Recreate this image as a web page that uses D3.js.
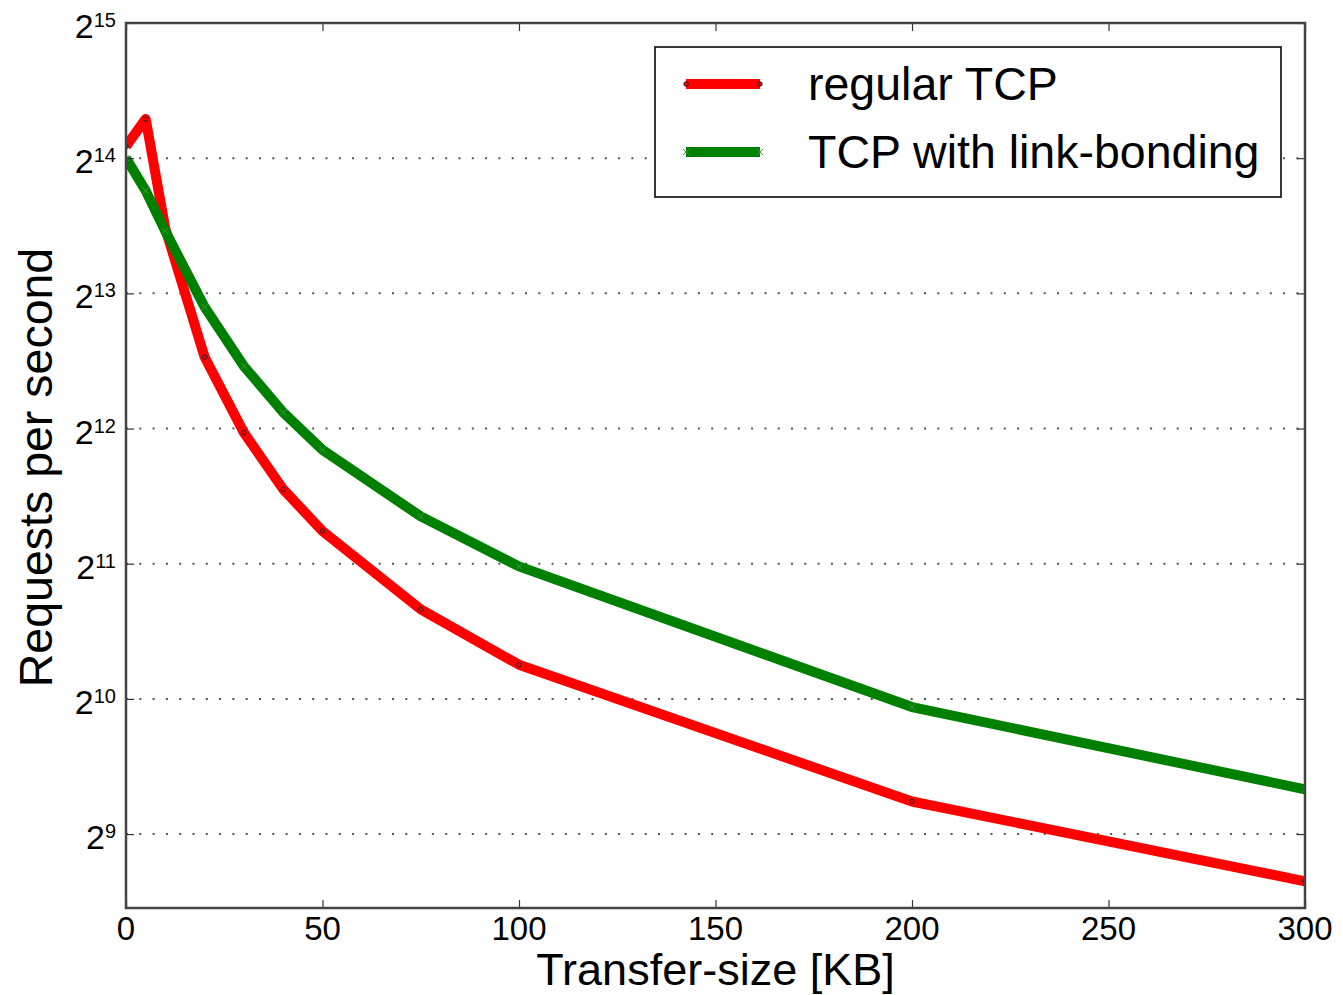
<!DOCTYPE html>
<html>
<head>
<meta charset="utf-8">
<script src="https://cdn.jsdelivr.net/npm/d3@7"></script>
<style>
  html, body { margin: 0; padding: 0; background: #fff; }
  svg { display: block; }
  text { font-family: "Liberation Sans", Arial, sans-serif; fill: #000; }
</style>
</head>
<body>
<svg id="chart" width="1343" height="995"></svg>
<script>
// ---- data ----
const transferSizes = [0, 5, 10, 20, 30, 40, 50, 75, 100, 200, 300];
const regularTCP    = [17400, 20030, 11420, 5910, 4010, 3000, 2420, 1620, 1220, 605, 402];
const linkBonding   = [16384, 13870, 11270, 7640, 5640, 4450, 3670, 2610, 2020, 982, 644];
const seriesNames   = ["regular TCP", "TCP with link-bonding"];
const xTicks        = [0, 50, 100, 150, 200, 250, 300];
const yExponents    = [9, 10, 11, 12, 13, 14, 15];
const xLabel        = "Transfer-size [KB]";
const yLabel        = "Requests per second";

// ---- layout ----
const W = 1343, H = 995;
const L = 126, R = 1305, T = 23, B = 908;
const svg = d3.select("#chart");

const x = d3.scaleLinear().domain([0, 300]).range([L, R]);
const y = d3.scaleLog().base(2).domain([Math.pow(2, 8.453), Math.pow(2, 15)]).range([B, T]);

svg.append("defs").append("clipPath").attr("id", "plotclip")
  .append("rect").attr("x", L).attr("y", T).attr("width", R - L).attr("height", B - T);

// grid lines (dotted)
const gridG = svg.append("g");
gridG.selectAll("line").data(yExponents.filter(e => e < 15)).enter().append("line")
  .attr("x1", L).attr("x2", R)
  .attr("y1", e => y(Math.pow(2, e))).attr("y2", e => y(Math.pow(2, e)))
  .attr("stroke", "#555").attr("stroke-width", 2)
  .attr("stroke-dasharray", "2,11.3");

// series lines
const line = d3.line().x(d => x(d[0])).y(d => y(d[1]));
const plot = svg.append("g").attr("clip-path", "url(#plotclip)");

const redData = transferSizes.map((s, i) => [s, regularTCP[i]]);
const greenData = transferSizes.map((s, i) => [s, linkBonding[i]]);

plot.append("path").datum(redData).attr("d", line)
  .attr("fill", "none").attr("stroke", "#ff0000").attr("stroke-width", 10)
  .attr("stroke-linejoin", "round");
plot.selectAll("circle.rm").data(redData).enter().append("circle").attr("class", "rm")
  .attr("cx", d => x(d[0])).attr("cy", d => y(d[1])).attr("r", 2.2)
  .attr("fill", "#ff0000").attr("stroke", "#222").attr("stroke-width", 1);

plot.append("path").datum(greenData).attr("d", line)
  .attr("fill", "none").attr("stroke", "#008000").attr("stroke-width", 10)
  .attr("stroke-linejoin", "round");
const xm = 3;
plot.selectAll("path.gm").data(greenData).enter().append("path").attr("class", "gm")
  .attr("d", d => { const cx = x(d[0]), cy = y(d[1]);
    return `M${cx-xm},${cy-xm}L${cx+xm},${cy+xm}M${cx-xm},${cy+xm}L${cx+xm},${cy-xm}`; })
  .attr("stroke", "#3c9a3c").attr("stroke-width", 1).attr("fill", "none");

// axes ticks (inward) using d3 axes
const tickLen = 8;
const xAxisB = d3.axisBottom(x).tickValues(xTicks).tickSize(-tickLen).tickFormat("");
const xAxisT = d3.axisTop(x).tickValues(xTicks).tickSize(-tickLen).tickFormat("");
const yVals = yExponents.map(e => Math.pow(2, e));
const yAxisL = d3.axisLeft(y).tickValues(yVals).tickSize(-tickLen).tickFormat("");
const yAxisR = d3.axisRight(y).tickValues(yVals).tickSize(-tickLen).tickFormat("");

function styleAxis(g) {
  g.select(".domain").remove();
  g.selectAll(".tick line").attr("stroke", "#333").attr("stroke-width", 1.2);
}
svg.append("g").attr("transform", `translate(0,${B})`).call(xAxisB).call(styleAxis);
svg.append("g").attr("transform", `translate(0,${T})`).call(xAxisT).call(styleAxis);
svg.append("g").attr("transform", `translate(${L},0)`).call(yAxisL).call(styleAxis);
svg.append("g").attr("transform", `translate(${R},0)`).call(yAxisR).call(styleAxis);

// frame
svg.append("rect").attr("x", L).attr("y", T).attr("width", R - L).attr("height", B - T)
  .attr("fill", "none").attr("stroke", "#444").attr("stroke-width", 2.5);

// x tick labels
svg.append("g").selectAll("text").data(xTicks).enter().append("text")
  .attr("x", d => x(d)).attr("y", 940)
  .attr("text-anchor", "middle").attr("font-size", 33)
  .text(d => d);

// y tick labels: 2^n
const yl = svg.append("g").selectAll("text").data(yExponents).enter().append("text")
  .attr("x", 116).attr("y", e => y(Math.pow(2, e)) + 15)
  .attr("text-anchor", "end").attr("font-size", 34);
yl.append("tspan").text("2");
yl.append("tspan").attr("dy", -11).attr("font-size", 20).text(e => e);

// axis labels
svg.append("text").attr("x", (L + R) / 2).attr("y", 985)
  .attr("text-anchor", "middle").attr("font-size", 45).text(xLabel);
svg.append("text").attr("transform", `translate(52,${(T + B) / 2 + 2}) rotate(-90)`)
  .attr("text-anchor", "middle").attr("font-size", 46.5).text(yLabel);

// legend
const lg = svg.append("g");
lg.append("rect").attr("x", 655).attr("y", 47).attr("width", 626).attr("height", 150)
  .attr("fill", "#fff").attr("stroke", "#222").attr("stroke-width", 1.8);
const legendItems = [
  { name: seriesNames[0], color: "#ff0000", y: 84, marker: "dot" },
  { name: seriesNames[1], color: "#008000", y: 152, marker: "x" }
];
legendItems.forEach(it => {
  lg.append("line").attr("x1", 686).attr("x2", 760).attr("y1", it.y).attr("y2", it.y)
    .attr("stroke", it.color).attr("stroke-width", 10);
  [686, 760].forEach(px => {
    if (it.marker === "dot") {
      lg.append("circle").attr("cx", px).attr("cy", it.y).attr("r", 2.2)
        .attr("fill", it.color).attr("stroke", "#222").attr("stroke-width", 1);
    } else {
      lg.append("path")
        .attr("d", `M${px-xm},${it.y-xm}L${px+xm},${it.y+xm}M${px-xm},${it.y+xm}L${px+xm},${it.y-xm}`)
        .attr("stroke", "#3c9a3c").attr("stroke-width", 1);
    }
  });
  lg.append("text").attr("x", 808).attr("y", it.y + 16).attr("font-size", 46.5).text(it.name);
});
</script>
</body>
</html>
